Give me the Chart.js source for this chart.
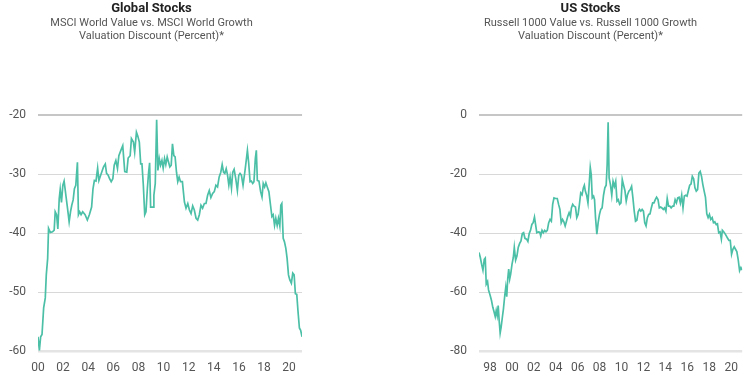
<!DOCTYPE html>
<html>
<head>
<meta charset="utf-8">
<script src="https://cdn.jsdelivr.net/npm/chart.js@4.4.1/dist/chart.umd.min.js"></script>
<style>
  body { margin: 0; background: #fff; }
  .box { position: absolute; top: 0; height: 376px; }
  #leftBox { left: 0; width: 306px; }
  #rightBox { left: 436px; width: 312px; }
</style>
</head>
<body>
<div class="box" id="leftBox"><canvas id="globalChart"></canvas></div>
<div class="box" id="rightBox"><canvas id="usChart"></canvas></div>
<script>
// MSCI World Value vs. MSCI World Growth, valuation discount (%)
var globalYears = [
  2000.00,2000.11,2000.21,2000.32,2000.45,2000.58,2000.66,2000.77,2000.84,2000.98,
  2001.16,2001.29,2001.37,2001.48,2001.58,2001.69,2001.77,2001.87,2001.98,2002.08,
  2002.22,2002.35,2002.48,2002.59,2002.69,2002.80,2002.90,2003.01,2003.14,2003.22,
  2003.32,2003.43,2003.56,2003.75,2003.93,2004.09,2004.27,2004.38,2004.49,2004.62,
  2004.75,2004.85,2004.99,2005.12,2005.22,2005.36,2005.46,2005.59,2005.70,2005.83,
  2005.96,2006.07,2006.20,2006.33,2006.44,2006.60,2006.75,2006.91,2007.07,2007.18,
  2007.34,2007.44,2007.60,2007.70,2007.84,2007.94,2008.07,2008.18,2008.28,2008.39,
  2008.50,2008.60,2008.71,2008.81,2008.89,2008.97,2009.16,2009.23,2009.34,2009.45,
  2009.55,2009.66,2009.76,2009.87,2009.97,2010.08,2010.18,2010.29,2010.40,2010.50,
  2010.61,2010.71,2010.82,2010.92,2011.03,2011.13,2011.24,2011.35,2011.50,2011.66,
  2011.79,2011.93,2012.06,2012.19,2012.32,2012.45,2012.59,2012.72,2012.85,2012.98,
  2013.11,2013.25,2013.38,2013.51,2013.64,2013.77,2013.91,2014.04,2014.17,2014.30,
  2014.43,2014.56,2014.67,2014.78,2014.88,2014.99,2015.09,2015.20,2015.30,2015.41,
  2015.51,2015.62,2015.75,2015.88,2015.99,2016.09,2016.20,2016.33,2016.46,2016.57,
  2016.68,2016.78,2016.89,2016.99,2017.10,2017.20,2017.31,2017.39,2017.47,2017.60,
  2017.73,2017.84,2017.94,2018.05,2018.15,2018.26,2018.39,2018.52,2018.63,2018.73,
  2018.84,2018.94,2019.05,2019.15,2019.26,2019.34,2019.42,2019.53,2019.63,2019.74,
  2019.84,2019.95,2020.05,2020.18,2020.29,2020.40,2020.50,2020.61,2020.71,2020.82,
  2020.92,2021.03
];
var globalValues = [
  -57.6,-59.9,-57.6,-57.2,-52.7,-51.0,-47.1,-44.3,-39.2,-39.9,
  -39.8,-39.5,-36.4,-36.9,-39.3,-34.2,-32.6,-34.8,-31.9,-31.2,
  -33.6,-35.8,-38.1,-36.4,-35.3,-34.4,-32.5,-31.9,-28.0,-36.9,
  -36.4,-36.9,-36.4,-36.9,-37.8,-36.9,-35.6,-32.5,-31.1,-31.2,
  -29.0,-31.1,-30.2,-29.4,-28.8,-28.3,-29.9,-30.2,-30.8,-31.3,
  -30.8,-28.5,-27.7,-29.1,-26.9,-26.0,-25.2,-29.6,-29.7,-27.3,
  -26.9,-24.0,-24.6,-26.3,-22.9,-23.5,-24.6,-28.3,-28.3,-31.9,
  -36.9,-36.4,-32.5,-29.7,-28.1,-35.6,-35.6,-33.6,-31.6,-20.8,
  -29.4,-27.4,-28.5,-27.7,-29.0,-27.4,-28.4,-27.1,-28.0,-28.8,
  -28.5,-24.9,-26.9,-27.1,-29.7,-31.3,-30.5,-31.3,-31.3,-34.7,
  -35.8,-35.0,-36.1,-36.7,-35.4,-36.1,-37.5,-37.8,-36.9,-35.3,
  -35.8,-35.0,-35.0,-33.6,-32.8,-34.0,-33.3,-33.0,-31.9,-32.2,
  -30.5,-29.7,-28.4,-29.7,-29.9,-29.1,-30.1,-31.9,-30.5,-32.4,
  -29.7,-29.2,-30.8,-32.8,-30.2,-29.9,-30.2,-31.9,-29.9,-28.0,
  -26.0,-28.1,-31.3,-31.2,-31.6,-31.3,-27.4,-26.0,-31.1,-31.2,
  -33.0,-33.9,-31.6,-32.2,-31.5,-32.2,-33.0,-35.3,-37.2,-36.9,
  -38.7,-37.5,-38.7,-37.5,-38.8,-35.3,-35.0,-40.9,-41.5,-42.6,
  -44.3,-47.1,-47.9,-48.5,-46.8,-47.1,-50.3,-50.4,-53.3,-56.1,
  -56.5,-57.6
];

// Russell 1000 Value vs. Russell 1000 Growth, valuation discount (%)
var usYears = [
  1997.00,1997.12,1997.24,1997.36,1997.48,1997.57,1997.66,1997.78,1997.87,1998.02,
  1998.14,1998.26,1998.36,1998.48,1998.57,1998.66,1998.75,1998.84,1998.93,1999.02,
  1999.14,1999.23,1999.35,1999.44,1999.53,1999.62,1999.71,1999.80,1999.89,2000.01,
  2000.13,2000.22,2000.34,2000.46,2000.58,2000.70,2000.83,2000.95,2001.07,2001.19,
  2001.34,2001.46,2001.58,2001.70,2001.82,2001.94,2002.06,2002.18,2002.27,2002.42,
  2002.54,2002.63,2002.75,2002.87,2002.99,2003.11,2003.23,2003.36,2003.48,2003.60,
  2003.72,2003.84,2003.99,2004.14,2004.26,2004.38,2004.50,2004.62,2004.74,2004.86,
  2004.98,2005.10,2005.22,2005.34,2005.43,2005.55,2005.67,2005.80,2005.92,2006.04,
  2006.16,2006.28,2006.40,2006.52,2006.61,2006.70,2006.82,2006.94,2007.06,2007.15,
  2007.24,2007.33,2007.45,2007.54,2007.63,2007.75,2007.87,2007.99,2008.11,2008.23,
  2008.36,2008.48,2008.60,2008.69,2008.78,2008.87,2008.99,2009.11,2009.23,2009.35,
  2009.47,2009.59,2009.71,2009.83,2009.95,2010.07,2010.19,2010.31,2010.43,2010.55,
  2010.67,2010.80,2010.92,2011.04,2011.16,2011.28,2011.40,2011.52,2011.64,2011.76,
  2011.88,2012.00,2012.12,2012.24,2012.36,2012.48,2012.60,2012.72,2012.84,2012.96,
  2013.08,2013.20,2013.33,2013.45,2013.57,2013.69,2013.81,2013.93,2014.05,2014.17,
  2014.29,2014.41,2014.53,2014.65,2014.77,2014.89,2015.01,2015.13,2015.25,2015.37,
  2015.49,2015.61,2015.73,2015.86,2015.98,2016.10,2016.22,2016.34,2016.46,2016.58,
  2016.70,2016.82,2016.94,2017.06,2017.18,2017.30,2017.42,2017.54,2017.66,2017.78,
  2017.90,2018.02,2018.14,2018.27,2018.39,2018.51,2018.63,2018.75,2018.87,2018.99,
  2019.11,2019.20,2019.32,2019.44,2019.56,2019.68,2019.80,2019.92,2020.04,2020.16,
  2020.28,2020.40,2020.52,2020.64,2020.77,2020.89,2021.01
];
var usValues = [
  -46.6,-48.3,-50.6,-52.6,-48.9,-48.5,-57.3,-56.4,-59.3,-61.2,
  -62.9,-65.2,-66.5,-68.3,-66.3,-68.0,-64.6,-69.7,-73.9,-71.9,
  -68.3,-65.7,-61.2,-58.4,-61.6,-55.6,-52.2,-55.6,-53.9,-50.6,
  -48.3,-44.9,-49.2,-47.8,-44.9,-43.6,-42.7,-40.2,-39.9,-41.8,
  -42.1,-42.9,-40.2,-39.1,-37.1,-36.5,-34.6,-37.6,-39.9,-39.6,
  -39.7,-41.0,-39.1,-39.9,-39.1,-39.6,-39.1,-36.5,-35.4,-36.0,
  -30.3,-28.1,-28.3,-28.3,-30.3,-32.0,-36.5,-35.4,-36.2,-37.6,
  -36.0,-34.3,-33.1,-34.3,-31.5,-30.3,-30.9,-31.2,-34.8,-33.7,
  -30.3,-26.4,-27.0,-24.7,-23.8,-25.8,-27.2,-29.8,-23.0,-17.8,
  -20.2,-28.1,-27.5,-28.7,-34.8,-40.4,-36.5,-33.7,-32.0,-31.5,
  -27.2,-24.7,-23.8,-16.9,-2.5,-21.3,-23.6,-27.2,-22.5,-24.2,
  -22.5,-29.2,-28.7,-30.3,-29.8,-21.9,-23.8,-25.6,-29.2,-27.0,
  -25.8,-25.3,-24.2,-28.1,-32.6,-36.0,-35.7,-32.8,-32.0,-32.6,
  -32.0,-32.6,-36.5,-37.6,-34.8,-33.7,-33.5,-31.5,-29.8,-29.8,
  -28.7,-27.9,-28.7,-31.5,-31.2,-31.5,-32.0,-31.5,-32.6,-28.3,
  -30.9,-30.9,-31.5,-30.9,-30.9,-28.7,-29.8,-28.1,-27.9,-29.8,
  -27.2,-31.5,-27.5,-27.2,-27.5,-25.6,-23.8,-23.4,-20.8,-21.6,
  -24.7,-25.8,-25.3,-19.7,-19.1,-20.8,-23.6,-25.8,-27.9,-33.5,
  -34.8,-33.7,-35.4,-34.8,-36.5,-36.2,-37.1,-36.9,-39.9,-39.6,
  -42.1,-39.1,-39.6,-40.2,-41.0,-41.8,-42.5,-42.5,-47.2,-45.5,
  -44.7,-45.5,-46.3,-48.9,-52.8,-51.7,-52.6
];

var globalXTicks = [2000, 2002, 2004, 2006, 2008, 2010, 2012, 2014, 2016, 2018, 2020];
var usXTicks = [1998, 2000, 2002, 2004, 2006, 2008, 2010, 2012, 2014, 2016, 2018, 2020];

Chart.defaults.font.family = "Roboto, 'DejaVu Sans', sans-serif";
Chart.defaults.color = "#555";

var lineColor = "#4cbfa7";

function toPoints(xs, ys) {
  return xs.map(function (x, i) { return { x: x, y: ys[i] }; });
}

function makeChart(id, o) {
  return new Chart(document.getElementById(id), {
    type: "line",
    data: {
      datasets: [{
        data: toPoints(o.years, o.values),
        borderColor: lineColor,
        borderWidth: 1.7,
        pointRadius: 0,
        tension: 0,
        fill: false
      }]
    },
    options: {
      responsive: true,
      maintainAspectRatio: false,
      animation: false,
      layout: { padding: { left: 0, right: 3, top: 0, bottom: 0 } },
      plugins: {
        legend: { display: false },
        tooltip: { enabled: false },
        title: {
          display: true,
          text: o.title,
          color: "#222",
          font: { size: 13, weight: "bold" },
          padding: { top: 1, bottom: 0 }
        },
        subtitle: {
          display: true,
          text: o.subtitle,
          color: "#555",
          font: { size: 11 },
          padding: { top: 0, bottom: 72 }
        }
      },
      scales: {
        x: {
          type: "linear",
          min: o.years[0],
          max: o.years[o.years.length - 1],
          grid: { display: false, drawTicks: false },
          border: { display: false },
          afterBuildTicks: function (scale) {
            scale.ticks = o.xTicks.map(function (v) { return { value: v }; });
          },
          afterFit: function (scale) { scale.height = 25; },
          ticks: {
            font: { size: 12 },
            padding: 10,
            maxRotation: 0,
            callback: function (v) { return String(v).slice(-2); }
          }
        },
        y: {
          min: o.yMin,
          max: o.yMax,
          afterFit: function (scale) { scale.width = o.axisWidth; },
          border: { display: false },
          grid: {
            drawTicks: false,
            color: function (c) {
              if (c.tick.value === o.yMax) return "#c6c6c6";
              if (c.tick.value === o.yMin) return "#e4e4e4";
              return "#d8d8d8";
            },
            lineWidth: function (c) {
              if (c.tick.value === o.yMax) return 2;
              if (c.tick.value === o.yMin) return 2.5;
              return 1;
            }
          },
          ticks: { stepSize: o.step, font: { size: 12 }, padding: 12 }
        }
      }
    }
  });
}

makeChart("globalChart", {
  years: globalYears, values: globalValues, xTicks: globalXTicks,
  title: "Global Stocks",
  subtitle: ["MSCI World Value vs. MSCI World Growth", "Valuation Discount (Percent)*"],
  yMin: -60, yMax: -20, step: 10, axisWidth: 38
});

makeChart("usChart", {
  years: usYears, values: usValues, xTicks: usXTicks,
  title: "US Stocks",
  subtitle: ["Russell 1000 Value vs. Russell 1000 Growth", "Valuation Discount (Percent)*"],
  yMin: -80, yMax: 0, step: 20, axisWidth: 43
});
</script>
</body>
</html>
